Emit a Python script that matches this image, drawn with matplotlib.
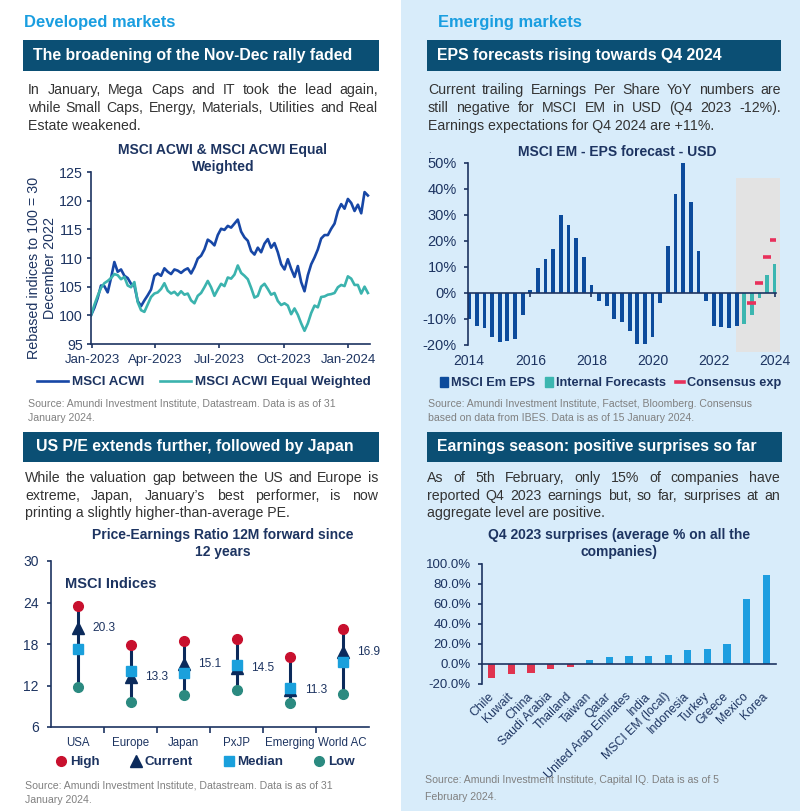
import matplotlib
matplotlib.use('Agg')
import matplotlib.pyplot as plt
from matplotlib.patches import Rectangle, Patch
from matplotlib.lines import Line2D
import matplotlib.dates as mdates
import matplotlib.ticker as mticker
import pandas as pd

plt.rcParams['font.family'] = ['Liberation Sans', 'DejaVu Sans']

# ---------------- data ----------------
# MSCI ACWI vs equal weighted, rebased to 100 on 30 Dec 2022 (~5 day steps)
line_dates = pd.date_range('2022-12-30', '2024-01-29', periods=84)
acwi = [100.0, 101.3, 103.0, 105.2, 105.1, 104.0, 106.5, 109.3, 107.6, 108.0,
        106.9, 106.5, 105.5, 105.2, 102.5, 101.6, 102.6, 103.5, 104.5, 106.9,
        107.3, 106.9, 108.2, 107.6, 107.2, 108.0, 107.8, 107.4, 107.9, 108.2,
        107.3, 108.4, 109.9, 110.4, 111.5, 113.2, 112.8, 112.2, 114.0, 115.1,
        114.9, 115.6, 115.3, 116.0, 116.7, 114.6, 113.6, 113.0, 111.2, 110.6,
        111.8, 111.0, 112.5, 113.3, 111.8, 112.6, 111.0, 108.9, 108.0, 109.8,
        108.1, 106.7, 108.6, 105.8, 104.2, 107.0, 108.9, 110.1, 111.5, 113.4,
        114.0, 114.0, 115.1, 116.0, 118.2, 119.4, 118.6, 120.3, 119.6, 118.2,
        119.3, 117.8, 121.5, 120.9]
acwi_ew = [100.0, 101.8, 103.4, 104.8, 105.6, 106.0, 106.5, 107.2, 107.0, 106.3,
           106.7, 105.2, 104.9, 105.8, 102.3, 100.9, 100.6, 101.9, 103.2, 103.8,
           104.0, 104.6, 105.6, 104.3, 103.8, 104.1, 103.5, 104.2, 103.6, 103.8,
           102.6, 102.1, 103.4, 103.9, 104.9, 106.0, 104.9, 103.4, 104.5, 105.5,
           105.1, 106.6, 106.4, 107.1, 108.7, 107.4, 106.9, 106.3, 104.8, 103.1,
           103.4, 105.0, 105.5, 104.6, 103.6, 103.9, 102.5, 101.8, 102.1, 101.7,
           100.2, 101.2, 100.1, 98.6, 97.3, 98.6, 100.4, 101.7, 101.4, 103.2,
           103.3, 103.6, 103.7, 103.9, 104.9, 105.3, 105.1, 106.8, 106.4, 105.3,
           105.3, 103.8, 105.0, 103.9]

# MSCI EM EPS YoY (%), quarterly from 2014 Q1
eps_hist = [-10, -12.5, -13.5, -17, -19, -18.5, -17.5, -8.5,
            1, 9.5, 13, 17, 30, 26, 21, 14,
            3, -3, -5, -10, -11, -14.5, -19.5, -19.5,
            -17, -4, 18, 38, 50, 35, 16, -3,
            -12.5, -13, -13.5, -12.5]
eps_internal = [-12, -8.5, -2, 7, 11]
eps_consensus = [-4, 4, 14, 20.5]
eps_years = ['2014', '2016', '2018', '2020', '2022', '2024']

# P/E 12M forward, 12 years
pe_regions = ['USA', 'Europe', 'Japan', 'PxJP', 'Emerging', 'World AC']
pe_high = [23.5, 17.9, 18.4, 18.7, 16.1, 20.1]
pe_current = [20.3, 13.3, 15.1, 14.5, 11.3, 16.9]
pe_median = [17.3, 14.1, 13.8, 14.9, 11.6, 15.4]
pe_low = [11.8, 9.6, 10.6, 11.3, 9.4, 10.8]

# Q4 2023 earnings surprises (%)
countries = ['Chile', 'Kuwait', 'China', 'Saudi Arabia', 'Thailand', 'Taiwan', 'Qatar',
             'United Arab Emirates', 'India', 'MSCI EM (local)', 'Indonesia', 'Turkey',
             'Greece', 'Mexico', 'Korea']
surprise = [-13.7, -10.2, -8.6, -5.4, -2.6, 3.8, 7.3, 7.7, 7.8, 9.3, 14.0, 14.8, 20.0, 65.5, 89.5]

# ---------------- style ----------------
NAVY = '#1d3461'
BANNER = '#0b4f74'
HEAD = '#1a9ee0'
BODY = '#333333'
GREY = '#808080'
PANEL = '#d8ecfa'

W, H = 800, 811
fig = plt.figure(figsize=(W / 100, H / 100), dpi=100)
fig.patch.set_facecolor('white')


def fx(x):
    return x / W


def fy(y):
    return 1 - y / H


def box(x0, y0, x1, y1):
    return fig.add_axes([x0 / W, 1 - y1 / H, (x1 - x0) / W, (y1 - y0) / H])


def ftext(x, y, s, **kw):
    return fig.text(fx(x), fy(y), s, **kw)


# right panel background
fig.patches.append(Rectangle((fx(401), 0), 1 - fx(401), 1, transform=fig.transFigure,
                             facecolor=PANEL, edgecolor='none', zorder=-10))

renderer = fig.canvas.get_renderer()


def justified(lines, x0, x1, y0, dy, **kw):
    for k, line in enumerate(lines):
        y = y0 + k * dy
        if k == len(lines) - 1:
            ftext(x0, y, line, va='center', **kw)
            continue
        words = line.split()
        ts = [ftext(0, y, w, va='center', **kw) for w in words]
        ws = [t.get_window_extent(renderer).width for t in ts]
        gap = (x1 - x0 - sum(ws)) / (len(words) - 1)
        x = x0
        for t, w in zip(ts, ws):
            t.set_x(fx(x))
            x += w + gap


def banner(x0, y0, x1, y1, s, tx):
    fig.patches.append(Rectangle((fx(x0), fy(y1)), (x1 - x0) / W, (y1 - y0) / H,
                                 transform=fig.transFigure, facecolor=BANNER,
                                 edgecolor='none'))
    ftext(tx, (y0 + y1) / 2, s, color='white', fontsize=11.4, fontweight='bold', va='center')


def style_axes(ax):
    ax.set_facecolor('none')
    for s in ['top', 'right']:
        ax.spines[s].set_visible(False)
    for s in ['left', 'bottom']:
        ax.spines[s].set_color(NAVY)
        ax.spines[s].set_linewidth(1.2)
    ax.tick_params(colors=NAVY, width=1.2, length=3)


# ---------------- headers and text ----------------
ftext(24, 22, 'Developed markets', color=HEAD, fontsize=11.9, fontweight='bold', va='center')
ftext(438, 22, 'Emerging markets', color=HEAD, fontsize=11.9, fontweight='bold', va='center')

banner(23, 40, 379, 71, 'The broadening of the Nov-Dec rally faded', 33)
banner(427, 40, 781, 71, 'EPS forecasts rising towards Q4 2024', 437)
banner(23, 432, 379, 462, 'US P/E extends further, followed by Japan', 36)
banner(427, 432, 782, 462, 'Earnings season: positive surprises so far', 437)

para = dict(color=BODY, fontsize=10.2)
justified(['In January, Mega Caps and IT took the lead again,',
           'while Small Caps, Energy, Materials, Utilities and Real',
           'Estate weakened.'], 28, 378, 90, 18, **para)
justified(['Current trailing Earnings Per Share YoY numbers are',
           'still negative for MSCI EM in USD (Q4 2023 -12%).',
           'Earnings expectations for Q4 2024 are +11%.'], 428, 781, 90, 18, **para)
justified(['While the valuation gap between the US and Europe is',
           'extreme, Japan, January\u2019s best performer, is now',
           'printing a slightly higher-than-average PE.'], 25, 378, 478, 17.5, **para)
justified(['As of 5th February, only 15% of companies have',
           'reported Q4 2023 earnings but, so far, surprises at an',
           'aggregate level are positive.'], 427, 780, 478, 17.5, **para)

src = dict(color=GREY, fontsize=7.6, va='center')
ftext(28, 404, 'Source: Amundi Investment Institute, Datastream. Data is as of 31', **src)
ftext(28, 418, 'January 2024.', **src)
ftext(428, 404, 'Source: Amundi Investment Institute, Factset, Bloomberg. Consensus', **src)
ftext(428, 418, 'based on data from IBES. Data is as of 15 January 2024.', **src)
ftext(25, 785, 'Source: Amundi Investment Institute, Datastream. Data is as of 31', **src)
ftext(25, 800, 'January 2024.', **src)
ftext(425, 780, 'Source: Amundi Investment Institute, Capital IQ. Data is as of 5', **src)
ftext(425, 797, 'February 2024.', **src)

title = dict(color=NAVY, fontsize=10, fontweight='bold', ha='center', va='center')

# ---------------- chart 1: ACWI ----------------
ftext(223, 150, 'MSCI ACWI & MSCI ACWI Equal', **title)
ftext(223, 167, 'Weighted', **title)
ax1 = box(91, 172, 370, 344)
style_axes(ax1)
ax1.plot(line_dates, acwi, color='#1747a6', lw=1.9, label='MSCI ACWI')
ax1.plot(line_dates, acwi_ew, color='#3bb3ae', lw=1.9, label='MSCI ACWI Equal Weighted')
ax1.set_ylim(95, 125)
ax1.set_yticks(range(95, 126, 5))
ax1.set_xlim(pd.Timestamp('2022-12-30'), pd.Timestamp('2024-02-01'))
ax1.xaxis.set_major_locator(mdates.MonthLocator(bymonth=[1, 4, 7, 10]))
ax1.xaxis.set_major_formatter(mdates.DateFormatter('%b-%Y'))
ax1.tick_params(axis='y', labelsize=10.3, pad=3)
ax1.tick_params(axis='x', labelsize=9.5, pad=4)
ftext(42, 268, 'Rebased indices to 100 = 30\nDecember 2022', rotation=90, color=NAVY,
      fontsize=10.3, ha='center', va='center', linespacing=1.2)
ax1.legend(loc='center left', bbox_to_anchor=(fx(37), fy(382)), bbox_transform=fig.transFigure,
           ncol=2, frameon=False, borderpad=0, borderaxespad=0, handlelength=2.3,
           handletextpad=0.3, columnspacing=1.2,
           prop={'weight': 'bold', 'size': 9.6}, labelcolor=NAVY)

# ---------------- chart 2: EPS ----------------
ftext(617, 152, 'MSCI EM - EPS forecast - USD', **title)
ftext(428, 150, '.', color=NAVY, fontsize=7, va='center')
ax2 = box(468, 163, 776, 345)
style_axes(ax2)
n_hist = len(eps_hist)
x_hist = list(range(n_hist))
x_int = list(range(n_hist, n_hist + len(eps_internal)))
x_cons = x_int[1:]
ax2.add_patch(Rectangle((34.9, -22.5), 5.8, 66.8, facecolor='#e3e3e3', edgecolor='none',
                        clip_on=False, zorder=0))
ax2.bar(x_hist, eps_hist, width=0.5, color='#0c4b9c', zorder=2)
ax2.bar(x_int, eps_internal, width=0.5, color='#3cb6b0', zorder=2)
ax2.hlines(eps_consensus, [x - 0.6 for x in x_cons], [x + 0.5 for x in x_cons],
           color='#e8315b', lw=2.6, zorder=3)
ax2.set_ylim(-20, 50)
ax2.set_xlim(-0.15, 40.15)
ax2.set_yticks(range(-20, 51, 10))
ax2.yaxis.set_major_formatter(mticker.FuncFormatter(lambda v, p: f'{v:.0f}%'))
ax2.spines['bottom'].set_position(('data', 0))
ax2.set_xticks(range(0, 41, 8))
ax2.set_xticklabels(eps_years)
ax2.tick_params(axis='x', labelsize=10, pad=41)
ax2.tick_params(axis='y', labelsize=10.5, pad=5)
h2 = [Patch(color='#0c4b9c'), Patch(color='#3cb6b0'), Line2D([], [], color='#e8315b', lw=2.6)]
ax2.legend(h2, ['MSCI Em EPS', 'Internal Forecasts', 'Consensus exp'],
           loc='center left', bbox_to_anchor=(fx(440), fy(383)), bbox_transform=fig.transFigure,
           ncol=3, frameon=False, borderpad=0, borderaxespad=0, handlelength=0.6,
           handleheight=0.8, handletextpad=0.25, columnspacing=0.8,
           prop={'weight': 'bold', 'size': 9.2}, labelcolor=NAVY)

# ---------------- chart 3: P/E ----------------
ftext(223, 535, 'Price-Earnings Ratio 12M forward since', **title)
ftext(223, 552, '12 years', **title)
ax3 = box(51, 561, 369, 727)
style_axes(ax3)
xp = list(range(len(pe_regions)))
ax3.vlines(xp, pe_low, pe_high, color='#0b2a5b', lw=2.2, zorder=1)
ax3.plot(xp, pe_high, 'o', color='#c8102e', ms=7, zorder=3, label='High')
ax3.plot(xp, pe_current, '^', color='#0b2a5b', ms=8, zorder=2, label='Current')
ax3.plot(xp, pe_median, 's', color='#1aa0dc', ms=7, zorder=3, label='Median')
ax3.plot(xp, pe_low, 'o', color='#2b8a80', ms=7, zorder=3, label='Low')
for x, v in zip(xp, pe_current):
    ax3.text(x + 0.5, v, f'{v:.1f}', color=NAVY, fontsize=8.6, ha='center', va='center')
ax3.set_ylim(6, 30)
ax3.set_yticks(range(6, 31, 6))
ax3.set_xlim(-0.5, 5.5)
ax3.set_xticks(xp)
ax3.set_xticklabels(pe_regions)
ax3.set_xticks([0.5, 1.5, 2.5, 3.5, 4.5], minor=True)
ax3.tick_params(axis='x', which='major', length=0, labelsize=8.3, pad=7)
ax3.tick_params(axis='x', which='minor', length=4, color=NAVY, width=1.2)
ax3.tick_params(axis='y', labelsize=10, pad=6)
ax3.text(0.045, 0.86, 'MSCI Indices', transform=ax3.transAxes, color=NAVY, fontsize=10.5,
         fontweight='bold', va='center')
ax3.legend(loc='center left', bbox_to_anchor=(fx(56), fy(762)), bbox_transform=fig.transFigure,
           ncol=4, frameon=False, borderpad=0, borderaxespad=0, handlelength=0.8,
           handletextpad=0.25, columnspacing=2.3,
           prop={'weight': 'bold', 'size': 9.6}, labelcolor=NAVY)

# ---------------- chart 4: surprises ----------------
ftext(619, 535, 'Q4 2023 surprises (average % on all the', **title)
ftext(619, 552, 'companies)', **title)
ax4 = box(482, 564, 776, 684)
style_axes(ax4)
xs = list(range(len(countries)))
ax4.bar(xs, surprise, width=0.36,
        color=['#e0344f' if v < 0 else '#1e9ee0' for v in surprise], zorder=2)
ax4.set_ylim(-20, 100)
ax4.set_yticks(range(-20, 101, 20))
ax4.yaxis.set_major_formatter(mticker.FuncFormatter(lambda v, p: f'{v:.1f}%'))
ax4.set_xlim(-0.5, len(countries) - 0.5)
ax4.spines['bottom'].set_position(('data', 0))
ax4.set_xticks(xs)
ax4.set_xticklabels(countries, rotation=45, ha='right', va='center', rotation_mode='anchor')
ax4.tick_params(axis='x', length=0, labelsize=8.8, pad=22)
ax4.tick_params(axis='y', labelsize=9.5, pad=5)

fig.savefig('out.png', dpi=100, facecolor=fig.get_facecolor())
